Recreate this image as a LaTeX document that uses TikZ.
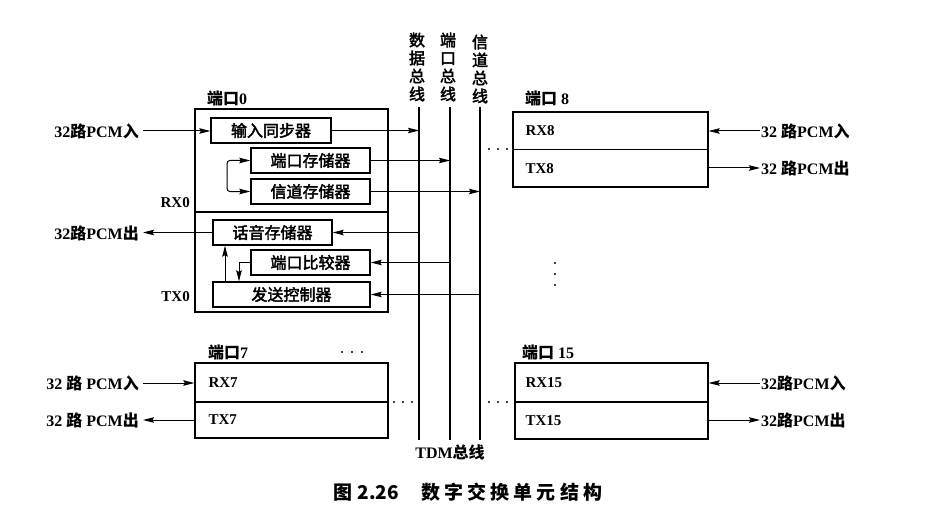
\documentclass[tikz,border=0pt]{standalone}
\usepackage{fontspec}
\setmainfont{Liberation Serif}
\newfontfamily\cjk{Noto Sans CJK SC}
\newfontfamily\cjkm{Noto Sans CJK SC}[FakeBold=2.5]
\newfontfamily\cjkcap{Noto Sans CJK SC}[LetterSpace=22]
\newcommand\zh[1]{{\cjk #1}}
\usetikzlibrary{arrows.meta}

\begin{document}
\begin{tikzpicture}[x=1pt,y=-1pt,
  every node/.style={font=\fontsize{15}{18}\selectfont\bfseries, inner sep=1pt},
  io/.style={font=\fontsize{16}{18}\selectfont\bfseries},
  unit/.style={draw, line width=1.3pt, minimum width=119pt, minimum height=25pt,
    inner sep=0pt, font=\fontsize{16}{18}\selectfont\cjkm},
  frame/.style={draw, line width=1.3pt, inner sep=0pt},
  buslbl/.style={align=center, font=\fontsize{16}{18}\selectfont\cjkm},
  lbl/.style={io, inner sep=4pt},
  bus/.style={line width=2.8pt},
  arr/.style={-{Stealth[length=11pt,width=5.5pt,inset=1.5pt]}, line width=1pt}
]
\useasboundingbox (0,0) rectangle (940,516);

% ---------- TDM bus: data, port and channel lines ----------
\coordinate (d0) at (419,107); \coordinate (d1) at (419,440);
\coordinate (p0) at (450,107); \coordinate (p1) at (450,440);
\coordinate (c0) at (480,107); \coordinate (c1) at (480,440);
\draw[bus] (d0) -- (d1);
\draw[bus] (p0) -- (p1);
\draw[bus] (c0) -- (c1);
\node[buslbl] (dlab) at (417,67) {数\\据\\总\\线};
\node[buslbl] (plab) at (448,67) {端\\口\\总\\线};
\node[buslbl] (clab) at (480,69) {信\\道\\总\\线};
\node[io] (tdm) at (450,452) {TDM\zh{总线}};

% ---------- port 0 ----------
\node[frame, minimum width=193pt, minimum height=103pt] (rx0) at (291.5,160.5) {};
\node[frame, minimum width=193pt, minimum height=100pt] (tx0) at (291.5,262) {};
\node[io, anchor=west] (port0) at (206,98) {\zh{端口}0};
\node[anchor=east] (rx0lab) at (191,203) {RX0};
\node[anchor=east] (tx0lab) at (191,297) {TX0};

\node[unit, minimum width=120pt] (sync) at (271,130.5) {输入同步器};
\node[unit] (pmem) at (310.5,160.5) {端口存储器};
\node[unit] (cmem) at (310.5,191.5) {信道存储器};
\node[unit] (voice) at (272.5,232.5) {话音存储器};
\node[unit] (cmp) at (310.5,262.5) {端口比较器};
\node[unit, minimum width=157pt] (ctl) at (291.5,294.5) {发送控制器};

\node[lbl, anchor=east] (in0) at (143,131) {32\zh{路}PCM\zh{入}};
\node[lbl, anchor=east] (out0) at (143,233) {32\zh{路}PCM\zh{出}};

\draw[arr] (in0.east) -- (in0.east -| sync.west);
\draw[arr] (voice.west) -- (voice.west -| out0.east);
\draw[arr] (sync.east) -- (sync.east -| d0);
\draw[arr] (pmem.east) -- (pmem.east -| p0);
\draw[arr] (cmem.east) -- (cmem.east -| c0);
\draw[arr] (voice.east -| d0) -- (voice.east);
\draw[arr] (cmp.east -| p0) -- (cmp.east);
\draw[arr] (ctl.east -| c0) -- (ctl.east);

% loop between the port and channel memories
\coordinate (loop) at (227,176);
\draw[arr, rounded corners=3pt] (loop) |- (pmem.west);
\draw[arr, rounded corners=3pt] (loop) |- (cmem.west);

% links between the send controller, comparator and voice memory
\coordinate (up) at (225,0);
\coordinate (down) at (239,0);
\draw[arr] (ctl.north -| up) -- (voice.south -| up);
\draw[arr] (cmp.west) -| (ctl.north -| down);

% ---------- port 8 ----------
\node[frame, minimum width=195pt, minimum height=37.5pt] (rx8) at (610.5,130.75) {};
\node[frame, minimum width=195pt, minimum height=37.5pt] (tx8) at (610.5,168.25) {};
\node[io, anchor=west] (port8) at (524,98) {\zh{端口} 8};
\node[anchor=west, xshift=12pt] (rx8lab) at (rx8.west) {RX8};
\node[anchor=west, xshift=12pt] (tx8lab) at (tx8.west) {TX8};
\node[io, anchor=west] (in8) at (760,131) {32 \zh{路}PCM\zh{入}};
\node[io, anchor=west] (out8) at (760,168) {32 \zh{路}PCM\zh{出}};
\draw[arr] (in8.west) -- (in8.west -| rx8.east);
\draw[arr] (tx8.east |- out8.west) -- (out8.west);

% ---------- port 7 ----------
\node[frame, minimum width=193pt, minimum height=39pt] (rx7) at (291.5,382.5) {};
\node[frame, minimum width=193pt, minimum height=36pt] (tx7) at (291.5,420) {};
\node[io, anchor=west] (port7) at (207,352) {\zh{端口}7};
\node[anchor=west, xshift=13pt] (rx7lab) at (rx7.west) {RX7};
\node[anchor=west, xshift=13pt] (tx7lab) at (tx7.west) {TX7};
\node[lbl, anchor=east] (in7) at (143,383) {32 \zh{路} PCM\zh{入}};
\node[lbl, anchor=east] (out7) at (143,420) {32 \zh{路} PCM\zh{出}};
\draw[arr] (in7.east) -- (in7.east -| rx7.west);
\draw[arr] (tx7.west |- out7.east) -- (out7.east);

% ---------- port 15 ----------
\node[frame, minimum width=193pt, minimum height=39pt] (rx15) at (611.5,382.5) {};
\node[frame, minimum width=193pt, minimum height=37pt] (tx15) at (611.5,420.5) {};
\node[io, anchor=west] (port15) at (521,352) {\zh{端口} 15};
\node[anchor=west, xshift=10pt] (rx15lab) at (rx15.west) {RX15};
\node[anchor=west, xshift=10pt] (tx15lab) at (tx15.west) {TX15};
\node[io, anchor=west] (in15) at (760,383) {32\zh{路}PCM\zh{入}};
\node[io, anchor=west] (out15) at (760,420) {32\zh{路}PCM\zh{出}};
\draw[arr] (in15.west) -- (in15.west -| rx15.east);
\draw[arr] (tx15.east |- out15.west) -- (out15.west);

% ---------- ellipses for the ports left out ----------
\foreach \x in {489,498,507} \fill (\x,149) circle (1.2pt);
\foreach \x in {342,352,362} \fill (\x,352) circle (1.2pt);
\foreach \x in {394,403,412} \fill (\x,402) circle (1.2pt);
\foreach \x in {489,498,507} \fill (\x,402) circle (1.2pt);
\foreach \y in {263,274,285} \fill (555,\y) circle (1.2pt);

% ---------- caption ----------
\node[font=\fontsize{19}{22}\selectfont\bfseries] (cap) at (468,492)
  {{\cjkcap 图}\hspace{5pt}{\cjk 2.26}\hspace{22pt}{\cjkcap 数字交换单元结构}};
\end{tikzpicture}
\end{document}
